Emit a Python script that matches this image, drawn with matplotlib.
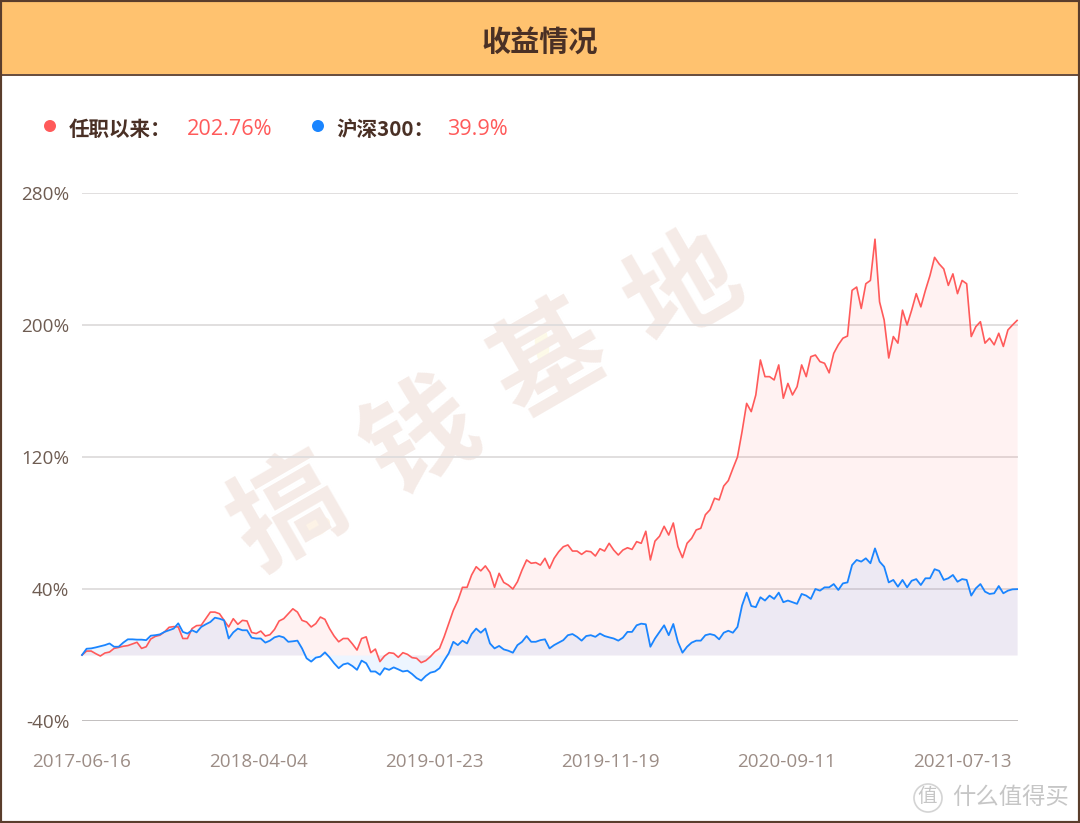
import matplotlib
matplotlib.use("Agg")
import matplotlib.pyplot as plt
from matplotlib.patches import Rectangle, Ellipse, Circle
import numpy as np

plt.rcParams['font.family'] = ['Noto Sans CJK SC', 'DejaVu Sans']

# one sample every 5 trading days, cumulative return in %
manager = [
    0, 2.4, 2.4, 0.8, -0.6, 1.2, 1.8, 4, 4.6, 5.3, 5.7, 6.7, 7.7, 4, 5, 9.7, 11.3, 12, 14, 16.8,
    17.2, 17, 10, 10, 16, 17.8, 18, 22, 26, 26, 25, 21, 17, 22, 18.6, 21, 20.6, 13.7, 13, 14.5,
    11.5, 12.3, 15.5, 20.6, 22, 25, 28, 26, 21, 20, 17, 19, 23, 21.6, 16, 11.5, 8, 10, 10, 6.7,
    3, 10, 11, 1.4, 3.6, -4, -0.6, 1.4, 1, -1.4, 1.4, 0.4, -1.6, -2, -4.6, -3.4, -1, 2, 4, 11,
    19, 27, 33, 41, 41, 48.5, 53.5, 51, 54, 50, 41, 49.5, 44, 42.4, 40, 44.4, 51.5, 57.6, 55.6, 56,
    54.5, 58.6, 52.5, 58.6, 62.6, 65.6, 66.7, 63, 63, 61, 63, 62.6, 60, 64.4, 63, 67.7, 63.6, 60.6, 63.6, 65,
    64, 68.7, 67.7, 75, 57.6, 69, 72, 78, 72.7, 80, 65.7, 59, 67.7, 70.7, 75.8, 76.8, 85, 88, 95, 94,
    102.4, 105.7, 113, 120, 135.4, 152.5, 147.5, 157.6, 178.8, 168.7, 168.7, 166.7, 175.8, 155.6, 164.6, 157.6, 162.6, 175.8, 168.7, 180.8,
    181.8, 177.8, 176.8, 171, 182.8, 188, 192, 193.3, 221, 223, 210, 225, 227, 252, 214, 203, 180, 193, 189, 209,
    200, 209, 219, 211, 221, 230, 241, 237, 234, 224, 231, 219, 227, 225, 193, 199, 202, 189, 192, 188,
    195, 187, 197, 200, 202.76,
]
hs300 = [
    0, 3.8, 4, 4.6, 5.3, 6, 7, 5, 5, 7.5, 9.5, 9.5, 9.3, 9.3, 9, 11.7, 12, 12.5, 14, 15,
    16, 19.2, 14, 13, 15, 13.7, 17, 18.6, 20, 22.6, 22, 21, 10, 13.7, 16, 15, 15, 10.5, 10, 10,
    7.5, 8.7, 10.7, 11.5, 10.7, 8, 8.3, 8.7, 4, -2, -4, -1.6, -1, 1.6, -1.4, -5, -8, -5.7, -5, -6.7,
    -9, -3.4, -5, -10, -10, -12, -8, -9, -7.5, -8.7, -10, -9.5, -11.5, -14, -15.5, -12.7, -10.7, -10, -8, -3.4,
    1, 8, 6, 8.7, 7, 12.7, 16, 13.5, 16, 7, 4, 5.5, 3.4, 2.6, 1.4, 6, 8, 11.5, 8, 8,
    9, 9.5, 4, 6, 7.5, 9, 12, 12.7, 11, 8.7, 11.5, 12, 11, 13, 11.5, 10.7, 10, 8.7, 10.5, 14,
    14, 18, 19, 18.6, 5, 10, 14, 18, 12, 18.8, 8, 1.4, 5, 7.5, 8.7, 8.7, 12, 12.7, 12, 9.5,
    13.5, 14.7, 13.5, 17, 30, 37.8, 29.7, 29, 35, 33, 36, 34, 37.8, 32, 33, 32, 31, 37, 36, 34,
    40, 39, 41, 41, 43, 39.4, 43.4, 44, 54.5, 57.6, 56.6, 58.6, 55.6, 64.6, 56.6, 53.5, 44, 45.5, 41.4, 45.5,
    41, 45, 46, 42.4, 46.5, 46.5, 52, 51, 45.5, 46.5, 48.5, 44.4, 46, 45.5, 36, 40.4, 43, 38.4, 37, 37.4,
    41.8, 37.4, 39, 39.8, 39.9,
]
days = np.arange(len(manager)) * 5

date_ticks = [0, 192, 384, 576, 768, 960]
date_labels = ['2017-06-16', '2018-04-04', '2019-01-23', '2019-11-19', '2020-09-11', '2021-07-13']
pct_ticks = [-40, 40, 120, 200, 280]
pct_labels = ['-40%', '40%', '120%', '200%', '280%']

W, H = 1080, 823
RED = '#ff5a5a'
BLUE = '#1a85ff'
BROWN = '#4a3025'
LATIN = ['Open Sans', 'Noto Sans CJK SC']

fig = plt.figure(figsize=(W / 100, H / 100), dpi=100, facecolor='white')

# page layer in pixel coordinates
bg = fig.add_axes([0, 0, 1, 1])
bg.set_xlim(0, W)
bg.set_ylim(H, 0)
bg.axis('off')

bg.add_patch(Rectangle((0, 0), W, 74, facecolor='#ffc26f', edgecolor='none'))
bg.plot([0, W], [74.5, 74.5], color='#5a3d2c', lw=1.3)
bg.text(540, 41.5, '收益情况', fontsize=21, fontweight='bold', color=BROWN, ha='center', va='center')

# legend
bg.add_patch(Circle((50, 126), 6, facecolor=RED, edgecolor='none'))
bg.text(69, 129, '任职以来：', fontsize=14.8, fontweight='bold', color=BROWN, ha='left', va='center')
bg.text(187, 129, '202.76%', fontsize=15.6, family=LATIN, color=RED, ha='left', va='center')
bg.add_patch(Circle((318, 126), 6, facecolor=BLUE, edgecolor='none'))
bg.text(336, 129, '沪深300：', fontsize=14.8, fontweight='bold', color=BROWN, ha='left', va='center')
bg.text(447, 129, '39.9%', fontsize=15.6, family=LATIN, color=RED, ha='left', va='center')

# big diagonal watermark
for ch, cx, cy in [('搞', 290, 515), ('钱', 421, 440), ('基', 550, 362), ('地', 685, 292)]:
    bg.text(cx, cy, ch, fontsize=80, fontweight='bold', color='#f5ebe7', rotation=30,
            rotation_mode='anchor', ha='center', va='center')
bg.add_patch(Ellipse((316, 527), 30, 18, angle=-25, facecolor='#fdf3e6', edgecolor='none'))
bg.add_patch(Ellipse((542, 345), 14, 40, angle=-5, facecolor='#fdfae8', edgecolor='none'))

# site mark, bottom right
bg.add_patch(Circle((928, 798), 14, facecolor='none', edgecolor='#d4d4d4', lw=1.2))
bg.text(927, 797, '值', fontsize=14, color='#c6c6c6', ha='center', va='center')
bg.text(1010.5, 797, '什么值得买', fontsize=16.8, color='#c6c6c6', ha='center', va='center')

# chart
ax = fig.add_axes([82 / W, 1 - 721 / H, (1018 - 82) / W, (721 - 193) / H])
ax.patch.set_alpha(0)
ax.set_xlim(0, 1021)
ax.set_ylim(-40, 280)
for s in ax.spines.values():
    s.set_visible(False)

ax.set_yticks(pct_ticks)
ax.set_yticklabels(pct_labels, family=LATIN)
ax.set_xticks(date_ticks)
ax.set_xticklabels(date_labels, family=LATIN)
ax.tick_params(axis='y', length=0, pad=9, labelsize=13.6, labelcolor='#6e5c52')
ax.tick_params(axis='x', length=0, pad=23, labelsize=13.6, labelcolor='#9c8d86')
ax.grid(axis='y', color='#dedcdc', lw=1.3)
ax.set_axisbelow(True)
ax.get_ygridlines()[0].set_color('#bdbaba')

ax.fill_between(days, manager, 0, color=RED, alpha=0.08, lw=0)
ax.fill_between(days, hs300, 0, color=BLUE, alpha=0.08, lw=0)
ax.plot(days, manager, color=RED, lw=1.2, clip_on=False)
ax.plot(days, hs300, color=BLUE, lw=1.3, clip_on=False)

# outer frame on top of everything
fig.add_artist(Rectangle((0, 0), 1, 1, transform=fig.transFigure, facecolor='none',
                         edgecolor='#5a3d2c', lw=3))

fig.savefig('out.png', dpi=100)
